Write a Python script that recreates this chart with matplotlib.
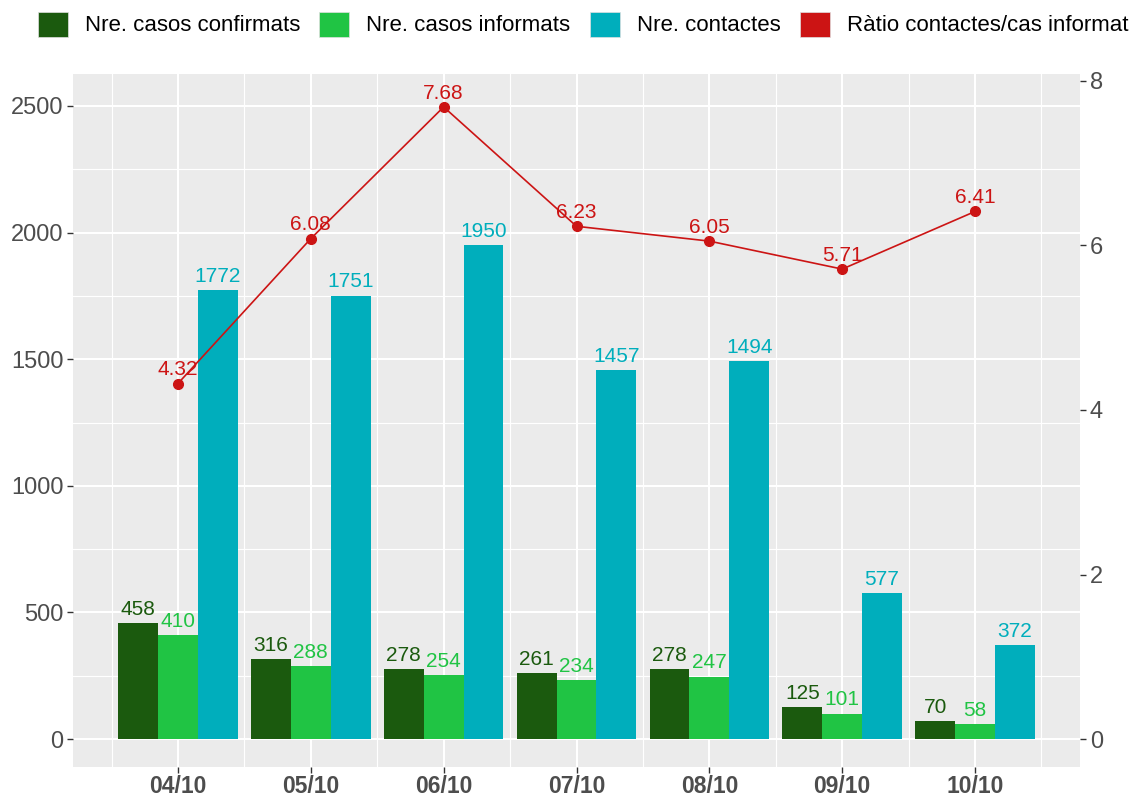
# libraries
import numpy as np
import matplotlib.pyplot as plt
from matplotlib.patches import Patch

plt.rcParams['font.family'] = ['Liberation Sans', 'DejaVu Sans']

# data
dates = ['04/10', '05/10', '06/10', '07/10', '08/10', '09/10', '10/10']
confirmats = [458, 316, 278, 261, 278, 125, 70]
informats = [410, 288, 254, 234, 247, 101, 58]
contactes = [1772, 1751, 1950, 1457, 1494, 577, 372]
ratio = [4.32, 6.08, 7.68, 6.23, 6.05, 5.71, 6.41]

noms = ['Nre. casos confirmats', 'Nre. casos informats', 'Nre. contactes',
        'Ràtio contactes/cas informat']
colors = ['#1B5A0E', '#20C444', '#00AEBC', '#CC1414']
escala = 325  # factor eix secundari

fig = plt.figure(figsize=(11.36, 7.98), dpi=100)
ax = fig.add_axes([73 / 1136, 1 - 767 / 798, (1080 - 73) / 1136, (767 - 74) / 798])
ax.set_facecolor('#EBEBEB')
for s in ax.spines.values():
    s.set_visible(False)

x = np.arange(len(dates))
w = 0.3
series = [confirmats, informats, contactes]
for i, vals in enumerate(series):
    pos = x + (i - 1) * w
    ax.bar(pos, vals, width=w, color=colors[i], zorder=3)
    for p, v in zip(pos, vals):
        ax.annotate(str(v), (p, v), xytext=(0, 3), textcoords='offset points',
                    ha='center', va='bottom', fontsize=15, color=colors[i], zorder=5)

# ratio line (scaled onto left axis)
ry = [r * escala for r in ratio]
ax.plot(x, ry, color=colors[3], lw=1.2, marker='o', ms=7, zorder=4)
for xi, r, yv in zip(x, ratio, ry):
    ax.annotate(f'{r:.2f}', (xi, yv), xytext=(0, 3), textcoords='offset points',
                ha='center', va='bottom', fontsize=15, color=colors[3], zorder=5)

ax.set_xlim(-0.79, 6.79)
ax.set_ylim(-110, 2626)
ax.set_xticks(x)
ax.set_xticklabels(dates, fontweight='bold')
ax.set_xticks(np.r_[x - 0.5, x[-1] + 0.5], minor=True)
ax.set_yticks([0, 500, 1000, 1500, 2000, 2500])
ax.set_yticks([250, 750, 1250, 1750, 2250], minor=True)
ax.grid(which='major', color='white', lw=1.5, zorder=0)
ax.grid(which='minor', color='white', lw=0.8, zorder=0)
ax.tick_params(which='major', labelsize=17, colors='#333333', length=4, width=1,
               labelcolor='#4D4D4D', pad=3)
ax.tick_params(axis='x', which='major', labelsize=16.5, pad=2)
ax.tick_params(which='minor', length=0)

ax2 = ax.twinx()
ax2.set_ylim(-110 / escala, 2626 / escala)
ax2.set_yticks([0, 2, 4, 6, 8])
for s in ax2.spines.values():
    s.set_visible(False)
ax2.tick_params(labelsize=17, colors='#333333', length=4, width=1,
                labelcolor='#4D4D4D', pad=3)

# legend
handles = [Patch(facecolor=c, edgecolor='#E0E0E0', lw=0.5) for c in colors]
fig.legend(handles, noms, loc='upper left', bbox_to_anchor=(22 / 1136, 1.005), ncol=4,
           frameon=False, fontsize=16, handlelength=1.35, handleheight=1.35,
           handletextpad=0.77, columnspacing=0.87, borderaxespad=0.3)

plt.savefig('out.png', dpi=100)
